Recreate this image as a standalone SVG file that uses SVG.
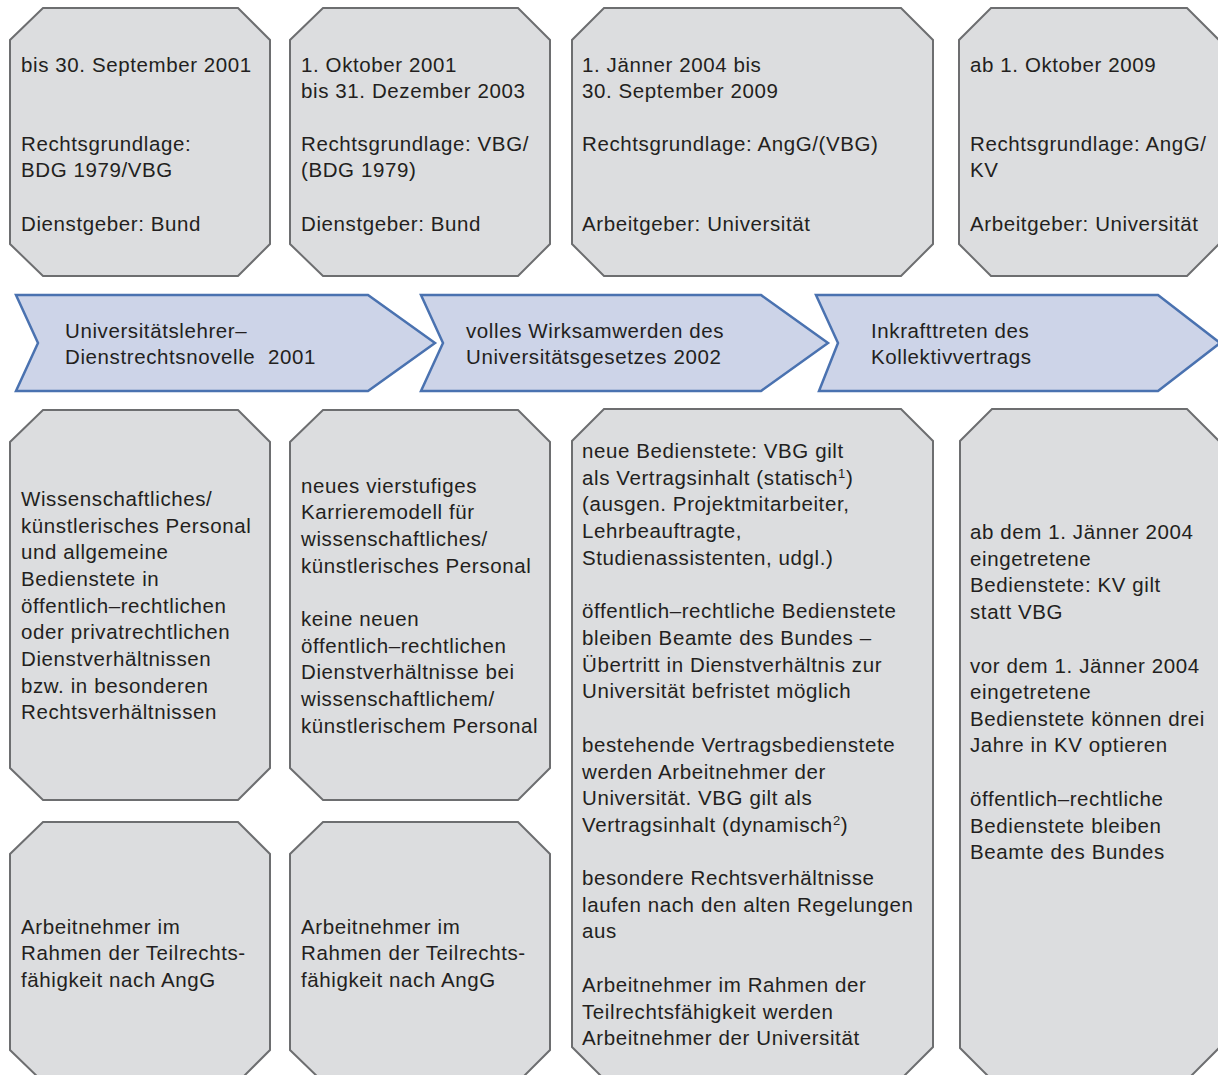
<svg xmlns="http://www.w3.org/2000/svg" width="1218" height="1075" viewBox="0 0 1218 1075">
<style>
.box{fill:#dcdddf;stroke:#6d6e70;stroke-width:2}
.chev{fill:#cdd4e8;stroke:#4a72b0;stroke-width:2.5}
text{font-family:"Liberation Sans",Arial,sans-serif;font-size:20.5px;fill:#231f20;letter-spacing:0.6px}
.sup{font-size:13px}
</style>
<rect width="1218" height="1075" fill="#ffffff"/>
<g id="period1">
<polygon class="box" points="43,8 238,8 270,40 270,244 238,276 43,276 10,244 10,40"/>
<text x="21" y="72">bis 30. September 2001</text>
<text x="21" y="151">Rechtsgrundlage:</text>
<text x="21" y="177">BDG 1979/VBG</text>
<text x="21" y="231">Dienstgeber: Bund</text>
</g>
<g id="period2">
<polygon class="box" points="323,8 518,8 550,40 550,244 518,276 323,276 290,244 290,40"/>
<text x="301" y="72">1. Oktober 2001</text>
<text x="301" y="98">bis 31. Dezember 2003</text>
<text x="301" y="151">Rechtsgrundlage: VBG/</text>
<text x="301" y="177">(BDG 1979)</text>
<text x="301" y="231">Dienstgeber: Bund</text>
</g>
<g id="period3">
<polygon class="box" points="604,8 901,8 933,40 933,244 901,276 604,276 572,244 572,40"/>
<text x="582" y="72">1. Jänner 2004 bis</text>
<text x="582" y="98">30. September 2009</text>
<text x="582" y="151">Rechtsgrundlage: AngG/(VBG)</text>
<text x="582" y="231">Arbeitgeber: Universität</text>
</g>
<g id="period4">
<polygon class="box" points="991,8 1187,8 1219,40 1219,244 1187,276 991,276 959,244 959,40"/>
<text x="970" y="72">ab 1. Oktober 2009</text>
<text x="970" y="151">Rechtsgrundlage: AngG/</text>
<text x="970" y="177">KV</text>
<text x="970" y="231">Arbeitgeber: Universität</text>
</g>
<g id="event1">
<polygon class="chev" points="16,295 368,295 435,343 368,391 16,391 38,343"/>
<text x="65" y="338">Universitätslehrer–</text>
<text x="65" y="364" xml:space="preserve">Dienstrechtsnovelle  2001</text>
</g>
<g id="event2">
<polygon class="chev" points="421,295 761,295 828,343 761,391 421,391 443,343"/>
<text x="466" y="338">volles Wirksamwerden des</text>
<text x="466" y="364">Universitätsgesetzes 2002</text>
</g>
<g id="event3">
<polygon class="chev" points="816,295 1158,295 1220,343 1158,391 819,391 838,343"/>
<text x="871" y="338">Inkrafttreten des</text>
<text x="871" y="364">Kollektivvertrags</text>
</g>
<g id="staff1">
<polygon class="box" points="43,410 238,410 270,442 270,768 238,800 43,800 10,768 10,442"/>
<text x="21" y="506">Wissenschaftliches/</text>
<text x="21" y="533">künstlerisches Personal</text>
<text x="21" y="559">und allgemeine</text>
<text x="21" y="586">Bedienstete in</text>
<text x="21" y="613">öffentlich–rechtlichen</text>
<text x="21" y="639">oder privatrechtlichen</text>
<text x="21" y="666">Dienstverhältnissen</text>
<text x="21" y="693">bzw. in besonderen</text>
<text x="21" y="719">Rechtsverhältnissen</text>
</g>
<g id="staff2">
<polygon class="box" points="323,410 518,410 550,442 550,768 518,800 323,800 290,768 290,442"/>
<text x="301" y="493">neues vierstufiges</text>
<text x="301" y="519">Karrieremodell für</text>
<text x="301" y="546">wissenschaftliches/</text>
<text x="301" y="573">künstlerisches Personal</text>
<text x="301" y="626">keine neuen</text>
<text x="301" y="653">öffentlich–rechtlichen</text>
<text x="301" y="679">Dienstverhältnisse bei</text>
<text x="301" y="706">wissenschaftlichem/</text>
<text x="301" y="733">künstlerischem Personal</text>
</g>
<g id="staff3">
<polygon class="box" points="604,409 901,409 933,441 933,1047 901,1079 604,1079 572,1047 572,441"/>
<text x="582" y="458">neue Bedienstete: VBG gilt</text>
<text x="582" y="485">als Vertragsinhalt (statisch<tspan class="sup" dy="-7">1</tspan><tspan dy="7">)</tspan></text>
<text x="582" y="511">(ausgen. Projektmitarbeiter,</text>
<text x="582" y="538">Lehrbeauftragte,</text>
<text x="582" y="565">Studienassistenten, udgl.)</text>
<text x="582" y="618">öffentlich–rechtliche Bedienstete</text>
<text x="582" y="645">bleiben Beamte des Bundes –</text>
<text x="582" y="672">Übertritt in Dienstverhältnis zur</text>
<text x="582" y="698">Universität befristet möglich</text>
<text x="582" y="752">bestehende Vertragsbedienstete</text>
<text x="582" y="779">werden Arbeitnehmer der</text>
<text x="582" y="805">Universität. VBG gilt als</text>
<text x="582" y="832">Vertragsinhalt (dynamisch<tspan class="sup" dy="-7">2</tspan><tspan dy="7">)</tspan></text>
<text x="582" y="885">besondere Rechtsverhältnisse</text>
<text x="582" y="912">laufen nach den alten Regelungen</text>
<text x="582" y="938">aus</text>
<text x="582" y="992">Arbeitnehmer im Rahmen der</text>
<text x="582" y="1019">Teilrechtsfähigkeit werden</text>
<text x="582" y="1045">Arbeitnehmer der Universität</text>
</g>
<g id="staff4">
<polygon class="box" points="992,409 1187,409 1219,441 1219,1048 1187,1080 992,1080 960,1048 960,441"/>
<text x="970" y="539">ab dem 1. Jänner 2004</text>
<text x="970" y="566">eingetretene</text>
<text x="970" y="592">Bedienstete: KV gilt</text>
<text x="970" y="619">statt VBG</text>
<text x="970" y="673">vor dem 1. Jänner 2004</text>
<text x="970" y="699">eingetretene</text>
<text x="970" y="726">Bedienstete können drei</text>
<text x="970" y="752">Jahre in KV optieren</text>
<text x="970" y="806">öffentlich–rechtliche</text>
<text x="970" y="833">Bedienstete bleiben</text>
<text x="970" y="859">Beamte des Bundes</text>
</g>
<g id="partial1">
<polygon class="box" points="43,822 238,822 270,854 270,1050 238,1082 43,1082 10,1050 10,854"/>
<text x="21" y="934">Arbeitnehmer im</text>
<text x="21" y="960">Rahmen der Teilrechts-</text>
<text x="21" y="987">fähigkeit nach AngG</text>
</g>
<g id="partial2">
<polygon class="box" points="323,822 518,822 550,854 550,1050 518,1082 323,1082 290,1050 290,854"/>
<text x="301" y="934">Arbeitnehmer im</text>
<text x="301" y="960">Rahmen der Teilrechts-</text>
<text x="301" y="987">fähigkeit nach AngG</text>
</g>
<g id="connectors"></g>
</svg>
